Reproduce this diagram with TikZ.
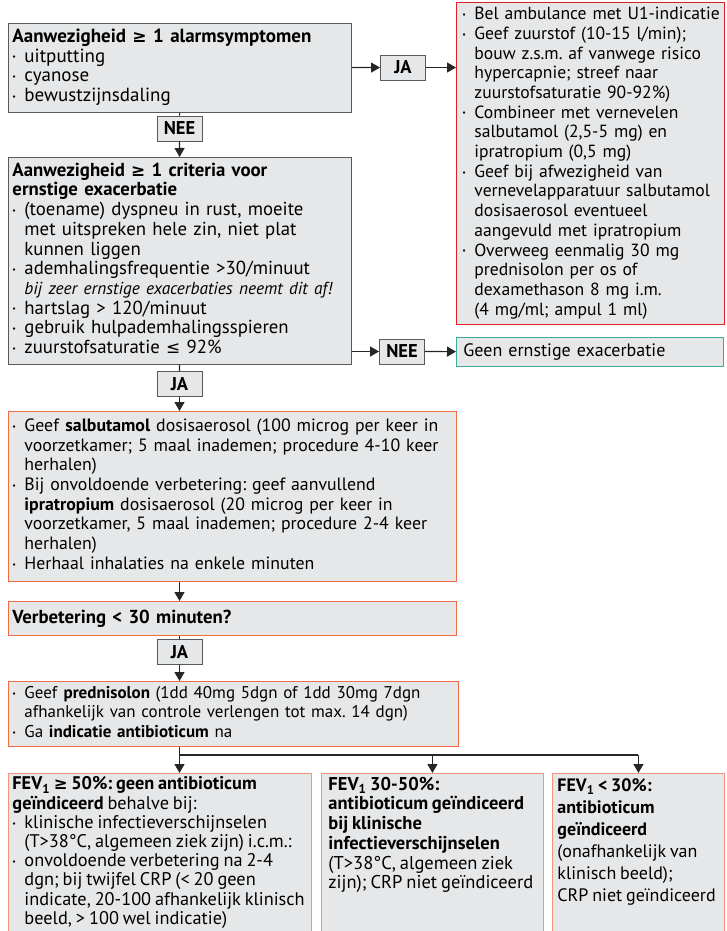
\documentclass[tikz,border=0pt]{standalone}
\usepackage{fontspec}
\setmainfont{PT Sans}[WordSpace=0.8]
\newfontfamily\symfont[Scale=0.9]{DejaVu Sans}
\usetikzlibrary{arrows.meta}
\frenchspacing

\definecolor{boxgray}{HTML}{E6E7E8}
\definecolor{edgegray}{HTML}{58595B}
\definecolor{alarmred}{HTML}{E31E24}
\definecolor{actionorange}{HTML}{F26B43}
\definecolor{fevsalmon}{HTML}{F4937A}
\definecolor{calmteal}{HTML}{3AAA9B}

\newcommand{\boxfont}[1]{\fontsize{#1}{19.7}\selectfont}
\newcommand{\boxlines}[1]{\begin{tabular}[t]{@{}l@{}}#1\end{tabular}}
\newcommand{\bul}{\makebox[12pt][l]{\raisebox{0.25ex}{\footnotesize\textbullet}}}
\newcommand{\ind}{\hspace*{12pt}}
\newcommand{\gesym}{{\symfont ≥}}
\newcommand{\lesym}{{\symfont ≤}}

\begin{document}
\begin{tikzpicture}[x=1pt, y=-1pt,
    every node/.style = {fill=boxgray, line width=0.9pt, inner xsep=4pt, inner ysep=3pt,
                         font=\boxfont{18.8}},
    stepbox/.style    = {draw, anchor=north west, align=left},
    answer/.style     = {draw=edgegray, font=\boxfont{18.5}\bfseries,
                         minimum width=45pt, minimum height=25pt, inner sep=0pt},
    flow/.style       = {-{Triangle[length=9pt,width=10pt]}}]
  \useasboundingbox (0,0) rectangle (726,931);

  % questions and actions
  \node[stepbox, draw=edgegray, font=\boxfont{19}, text width=335pt, minimum height=89pt] (alarm) at (8,23)
    {\boxlines{\textbf{Aanwezigheid \gesym{} 1 alarmsymptomen}\\
     \bul uitputting\\
     \bul cyanose\\
     \bul bewustzijnsdaling}};
  \node[stepbox, draw=alarmred, font=\boxfont{17.6}, inner xsep=6pt, text width=256pt, minimum height=322pt] (ambulance) at (456,2)
    {\boxlines{\bul Bel ambulance met U1-indicatie\\
     \bul Geef zuurstof (10-15 l/min);\\
     \ind bouw z.s.m. af vanwege risico\\
     \ind hypercapnie; streef naar\\
     \ind zuurstofsaturatie 90-92\%)\\
     \bul Combineer met vernevelen\\
     \ind salbutamol (2,5-5 mg) en\\
     \ind ipratropium (0,5 mg)\\
     \bul Geef bij afwezigheid van\\
     \ind vernevelapparatuur salbutamol\\
     \ind dosisaerosol eventueel\\
     \ind aangevuld met ipratropium\\
     \bul Overweeg eenmalig 30 mg\\
     \ind prednisolon per os of\\
     \ind dexamethason 8 mg i.m.\\
     \ind (4 mg/ml; ampul 1 ml)}};
  \node[stepbox, draw=edgegray, text width=335pt, minimum height=207pt] (severe) at (8,157)
    {\boxlines{\textbf{Aanwezigheid \gesym{} 1 criteria voor}\\
     \textbf{ernstige exacerbatie}\\
     \bul (toename) dyspneu in rust, moeite\\
     \ind met uitspreken hele zin, niet plat\\
     \ind kunnen liggen\\
     \bul ademhalingsfrequentie >30/minuut\\
     \ind {\boxfont{17.3}\itshape bij zeer ernstige exacerbaties neemt dit af!}\\
     \bul hartslag > 120/minuut\\
     \bul gebruik hulpademhalingsspieren\\
     \bul zuurstofsaturatie \lesym{} 92\%}};
  \node[stepbox, draw=calmteal, font=\boxfont{18}, inner xsep=7pt, text width=253pt, minimum height=29pt] (noSevere) at (456,337)
    {Geen ernstige exacerbatie};
  \node[stepbox, draw=actionorange, font=\boxfont{17.8}, text width=440pt, minimum height=170pt] (treatment) at (8,411)
    {\boxlines{\bul Geef \textbf{salbutamol} dosisaerosol (100 microg per keer in\\
     \ind voorzetkamer; 5 maal inademen; procedure 4-10 keer\\
     \ind herhalen)\\
     \bul Bij onvoldoende verbetering: geef aanvullend\\
     \ind \textbf{ipratropium} dosisaerosol (20 microg per keer in\\
     \ind voorzetkamer, 5 maal inademen; procedure 2-4 keer\\
     \ind herhalen)\\
     \bul Herhaal inhalaties na enkele minuten}};
  \node[stepbox, draw=actionorange, text width=440pt, minimum height=34pt] (improved) at (8,601)
    {\textbf{Verbetering < 30 minuten?}};
  \node[stepbox, draw=actionorange, font=\boxfont{17}, text width=442pt, minimum height=65pt] (prednisolon) at (8,681)
    {\boxlines{\bul Geef \textbf{prednisolon} (1dd 40mg 5dgn of 1dd 30mg 7dgn\\
     \ind afhankelijk van controle verlengen tot max. 14 dgn)\\
     \bul Ga \textbf{indicatie antibioticum} na}};

  % FEV1 classes, running off the page
  \begin{scope}[every node/.append style = {draw=fevsalmon, anchor=north west, inner ysep=3pt}]
    \node[font=\fontsize{18.3}{19.2}\selectfont] (fevHigh) at (8,773)
      {\parbox[t][190pt][t]{295pt}{\boxlines{%
       \textbf{FEV\textsubscript{1} \gesym{} 50\%: geen antibioticum}\\
       \textbf{geïndiceerd} behalve bij:\\
       \bul klinische infectieverschijnselen\\
       \ind (T>38°C, algemeen ziek zijn) i.c.m.:\\
       \bul onvoldoende verbetering na 2-4\\
       \ind dgn; bij twijfel CRP (< 20 geen\\
       \ind indicate, 20-100 afhankelijk klinisch\\
       \ind beeld, > 100 wel indicatie)}}};
    \node[font=\boxfont{18.5}, inner xsep=7pt] (fevMid) at (321,773)
      {\parbox[t][190pt][t]{208pt}{\boxlines{%
       \textbf{FEV\textsubscript{1} 30-50\%:}\\
       \textbf{antibioticum geïndiceerd}\\
       \textbf{bij klinische}\\
       \textbf{infectieverschijnselen}\\
       (T>38°C, algemeen ziek\\
       zijn); CRP niet geïndiceerd}}};
    \node[font=\fontsize{18}{22}\selectfont, inner xsep=5pt] (fevLow) at (552,773)
      {\parbox[t][190pt][t]{162pt}{\boxlines{%
       \textbf{FEV\textsubscript{1} < 30\%:}\\
       \textbf{antibioticum}\\
       \textbf{geïndiceerd}\\
       (onafhankelijk van\\
       klinisch beeld);\\
       CRP niet geïndiceerd}}};
  \end{scope}

  % answers
  \node[answer] (yes1) at (403,67.5)  {JA};
  \node[answer] (no1)  at (179.5,128.5) {NEE};
  \node[answer] (no2)  at (402,351.5) {NEE};
  \node[answer] (yes2) at (179.5,384) {JA};
  \node[answer] (yes3) at (179.5,652) {JA};
  \coordinate (split) at (179.5,755);

  \begin{scope}[line width=1.2pt, draw=black!85]
    \draw[flow] (alarm) -- (yes1);
    \draw[flow] (yes1.east) -- (yes1.east -| ambulance.west);
    \draw (alarm) -- (no1);
    \draw[flow] (no1) -- (severe);
    \draw[flow] (severe.east |- no2) -- (no2);
    \draw[flow] (no2) -- (noSevere);
    \draw (severe) -- (yes2);
    \draw[flow] (yes2) -- (yes2 |- treatment.north);
    \draw[flow] (treatment.south -| yes2) -- (improved.north -| yes2);
    \draw (improved.south -| yes3) -- (yes3);
    \draw[flow] (yes3) -- (yes3 |- prednisolon.north);
    \draw (prednisolon.south -| split) -- (split) -- (split -| fevLow.north);
    \draw[flow] (split) -- (split |- fevHigh.north);
    \draw[flow] (split -| fevMid.north) -- (fevMid.north);
    \draw[flow] (split -| fevLow.north) -- (fevLow.north);
  \end{scope}
\end{tikzpicture}
\end{document}
